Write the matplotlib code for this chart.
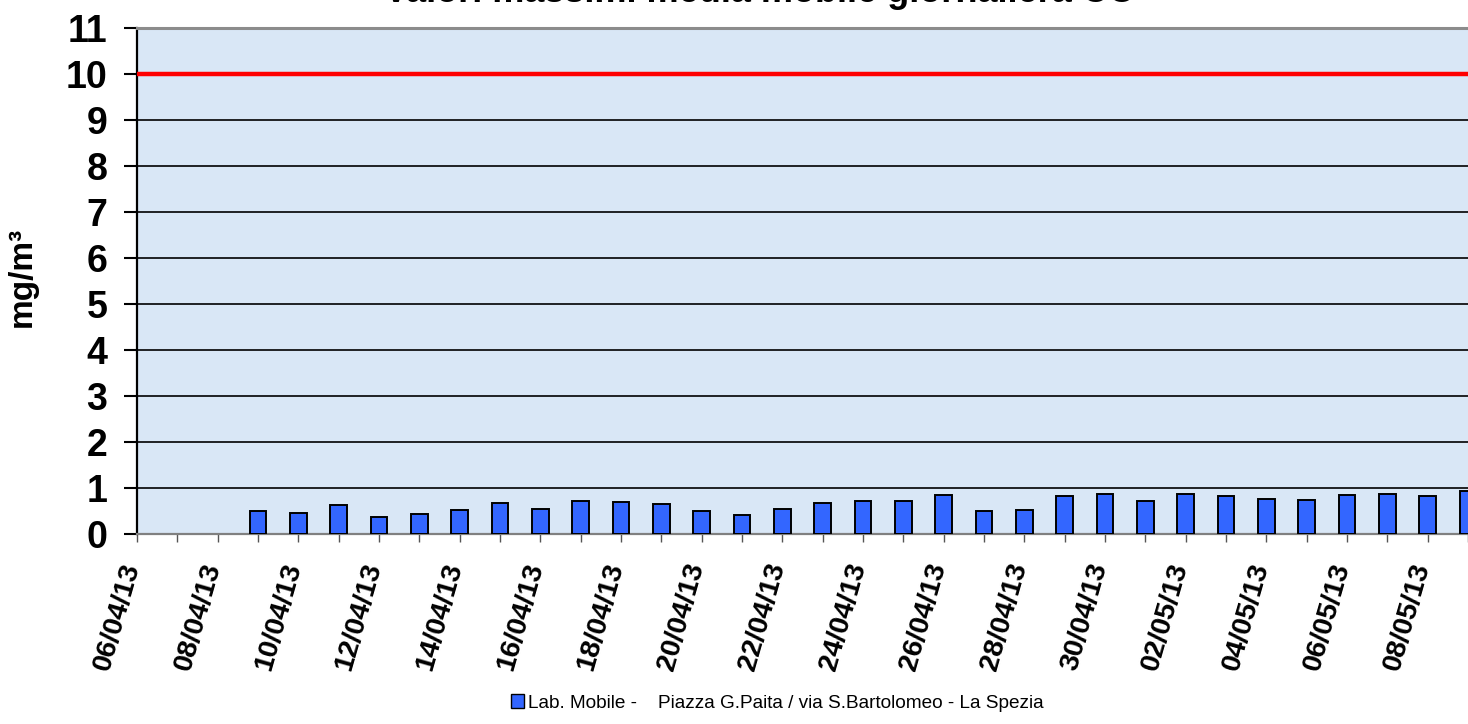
import numpy as np
import pandas as pd
import matplotlib
matplotlib.use("Agg")
import matplotlib.pyplot as plt
import matplotlib.dates as mdates
import matplotlib.transforms as mtransforms
from matplotlib.patches import Patch

plt.rcParams['font.family'] = ['Liberation Sans', 'DejaVu Sans']

#%% data
dates = pd.date_range('2013-04-09', '2013-05-09', freq='D')
co_max = [0.51, 0.46, 0.62, 0.38, 0.44, 0.52, 0.68, 0.55, 0.71, 0.69,
          0.66, 0.49, 0.42, 0.55, 0.67, 0.72, 0.72, 0.85, 0.51, 0.53,
          0.83, 0.88, 0.72, 0.88, 0.82, 0.77, 0.73, 0.85, 0.88, 0.82,
          0.94]
limit_value = 10
label_dates = pd.date_range('2013-04-06', '2013-05-08', freq='2D')
day_ticks = pd.date_range('2013-04-06', '2013-05-09', freq='D')
y_ticks = list(range(0, 12))
series_label = "Lab. Mobile -    Piazza G.Paita / via S.Bartolomeo - La Spezia"
title = "Valori massimi media mobile giornaliera CO"

#%% figure
W, H = 1468, 724
fig = plt.figure(figsize=(W/100, H/100), dpi=100)
ax = fig.add_axes([137/W, 1-534/H, 1-137/W, (534-28)/H])
ax.set_facecolor('#d9e7f6')

ax.bar(dates, co_max, width=0.42, color='#3366ff', edgecolor='black',
       linewidth=1.4, zorder=3)
ax.axhline(limit_value, color='#ff0000', lw=3.2, zorder=4)

#____axes limits
x0 = mdates.date2num(pd.Timestamp('2013-04-06'))
ax.set_xlim(x0, x0 + 32.96)
ax.set_ylim(0, 11)

#____y axis
ax.set_yticks(y_ticks)
ax.yaxis.grid(True, color='black', lw=1.2)
ax.set_axisbelow(True)
ax.tick_params(axis='y', direction='out', length=9.4, width=1.5, color='black',
               pad=12, labelsize=27)
for lbl in ax.get_yticklabels():
    lbl.set_fontweight('bold')
ax.set_ylabel('mg/m³', fontsize=24, fontweight='bold')
ax.yaxis.set_label_coords((38-137)/(W-137), (534-277)/506)

#____x axis
ax.set_xticks(label_dates)
ax.set_xticks(day_ticks, minor=True)
ax.xaxis.set_major_formatter(mdates.DateFormatter('%d/%m/%y'))
ax.tick_params(axis='x', which='both', direction='out', length=5.8, width=1,
               color='#555555')
ax.tick_params(axis='x', which='major', pad=13, labelsize=20.5)
offset = mtransforms.ScaledTranslation(8/100, 0, fig.dpi_scale_trans)
for lbl in ax.get_xticklabels():
    lbl.set_rotation(74)
    lbl.set_ha('right')
    lbl.set_fontweight('bold')
    lbl.set_transform(lbl.get_transform() + offset)

#____spines
ax.spines['left'].set_color('black')
ax.spines['left'].set_linewidth(1.6)
ax.spines['bottom'].set_color('#808080')
ax.spines['bottom'].set_linewidth(1.6)
ax.spines['top'].set_color('#8c8c8c')
ax.spines['top'].set_linewidth(2.2)
ax.spines['right'].set_visible(False)

#____title (cut off at the top like the original)
fig.text(760/W, 1-1.5/H, title, ha='center', va='baseline',
         fontsize=26, fontweight='bold')

#____legend
fig.legend(handles=[Patch(facecolor='#3366ff', edgecolor='black', label=series_label)],
           loc='center', bbox_to_anchor=(777/W, 1-703/H), frameon=False,
           fontsize=13.7, handlelength=0.7, handleheight=0.7, handletextpad=0.2)

fig.savefig('out.png', dpi=100)
